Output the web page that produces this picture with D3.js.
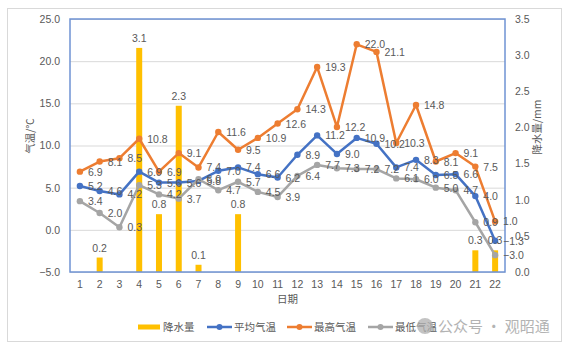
<!DOCTYPE html>
<html><head><meta charset="utf-8">
<script src="https://cdn.jsdelivr.net/npm/d3@7"></script>
<style>
html,body{margin:0;padding:0;background:#fff;}
svg{display:block;}
text{font-family:"Liberation Sans","Noto Sans CJK SC",sans-serif;}
.cjk{font-family:"Noto Sans CJK SC",sans-serif;}
</style></head>
<body>
<svg id="c" width="567" height="350"></svg>
<script>
const days = ["1","2","3","4","5","6","7","8","9","10","11","12","13","14","15","16","17","18","19","20","21","22"];
const precip = [0,0.2,0,3.1,0.8,2.3,0.1,0,0.8,0,0,0,0,0,0,0,0,0,0,0,0.3,0.3];
const avgT  = [5.2,4.6,4.2,6.9,5.6,5.6,5.8,7.0,7.4,6.6,6.2,8.9,11.2,9.0,10.9,10.2,7.4,8.3,6.5,6.6,4.0,-1.3];
const maxT  = [6.9,8.1,8.5,10.8,6.9,9.1,7.4,11.6,9.5,10.9,12.6,14.3,19.3,12.2,22.0,21.1,10.3,14.8,8.1,9.1,7.5,1.0];
const minT  = [3.4,2.0,0.3,5.3,4.2,3.7,6.0,4.7,5.7,4.5,3.9,6.4,7.7,7.3,7.2,7.2,6.1,6.0,5.0,4.7,0.9,-3.0];
const leftTicks = [-5,0,5,10,15,20,25];
const rightTicks = [0,0.5,1.0,1.5,2.0,2.5,3.0,3.5];
const seriesNames = ["降水量","平均气温","最高气温","最低气温"];
const colors = {precip:"#FFC000", avg:"#4472C4", max:"#ED7D31", min:"#A5A5A5"};

const svg = d3.select("#c");
const L=70, R=505, T=19, B=272;
const x = d3.scaleBand().domain(days).range([L,R]).padding(0);
const yL = d3.scaleLinear().domain([-5,25]).range([B,T]);
const yR = d3.scaleLinear().domain([0,3.5]).range([B,T]);
const cx = d => x(d)+x.bandwidth()/2;
const labColor = "#595959";

// outer frame
svg.append("rect").attr("x",7.5).attr("y",8.5).attr("width",554).attr("height",333)
  .attr("fill","#fff").attr("stroke","#D9D9D9");

// gridlines
svg.append("g").attr("transform",`translate(${L},0)`)
  .call(d3.axisLeft(yL).tickValues(leftTicks).tickSize(-(R-L)).tickFormat(""))
  .call(g=>g.select(".domain").remove())
  .call(g=>g.selectAll("line").attr("stroke","#D9D9D9").attr("stroke-width",1));

// left axis labels
svg.append("g").attr("transform",`translate(${L-10},0)`)
  .call(d3.axisLeft(yL).tickValues(leftTicks).tickSize(0).tickFormat(d3.format(".1f")))
  .call(g=>g.select(".domain").remove())
  .call(g=>g.selectAll("text").attr("fill",labColor).style("font-size","10.5px").attr("x",0));

// right axis labels
svg.append("g").attr("transform",`translate(${R+10},0)`)
  .call(d3.axisRight(yR).tickValues(rightTicks).tickSize(0).tickFormat(d3.format(".1f")))
  .call(g=>g.select(".domain").remove())
  .call(g=>g.selectAll("text").attr("fill",labColor).style("font-size","10.5px").attr("x",0));

// x axis labels
svg.append("g").attr("transform",`translate(0,${B+6})`)
  .call(d3.axisBottom(x).tickSize(0))
  .call(g=>g.select(".domain").remove())
  .call(g=>g.selectAll("text").attr("fill",labColor).style("font-size","10.5px"));

// bars
const bw = 6;
svg.append("g").selectAll("rect").data(days.map((d,i)=>({d,v:precip[i]})).filter(o=>o.v>0))
  .join("rect").attr("x",o=>cx(o.d)-bw/2).attr("width",bw)
  .attr("y",o=>yR(o.v)).attr("height",o=>yR(0)-yR(o.v)).attr("fill",colors.precip);

// plot border
svg.append("rect").attr("x",L).attr("y",T).attr("width",R-L).attr("height",B-T)
  .attr("fill","none").attr("stroke","#6F93D3").attr("stroke-width",1.5);

// lines
const lineSeries = [
  {vals:avgT,color:colors.avg},
  {vals:maxT,color:colors.max},
  {vals:minT,color:colors.min}
];
const line = d3.line().x(o=>cx(o.d)).y(o=>yL(o.v));
lineSeries.forEach(s=>{
  const pts = days.map((d,i)=>({d,v:s.vals[i]}));
  svg.append("path").datum(pts).attr("d",line).attr("fill","none")
    .attr("stroke",s.color).attr("stroke-width",2.5).attr("stroke-linejoin","round");
  svg.append("g").selectAll("circle").data(pts).join("circle")
    .attr("cx",o=>cx(o.d)).attr("cy",o=>yL(o.v)).attr("r",3.2).attr("fill",s.color);
});

// data labels - lines (right)
lineSeries.forEach(s=>{
  svg.append("g").selectAll("text").data(days.map((d,i)=>({d,v:s.vals[i]}))).join("text")
    .attr("x",o=>cx(o.d)+8).attr("y",o=>yL(o.v)+4)
    .attr("fill",labColor).style("font-size","10.5px")
    .text(o=>d3.format(".1f")(o.v));
});
// data labels - bars (above)
svg.append("g").selectAll("text").data(days.map((d,i)=>({d,v:precip[i]})).filter(o=>o.v>0)).join("text")
  .attr("x",o=>cx(o.d)).attr("y",o=>yR(o.v)-6).attr("text-anchor","middle")
  .attr("fill",labColor).style("font-size","10.5px")
  .text(o=>d3.format(".1f")(o.v));

// axis titles
svg.append("text").attr("class","cjk").attr("transform","translate(34,136) rotate(-90)")
  .attr("text-anchor","middle").attr("fill",labColor).style("font-size","10.5px").text("气温/℃");
svg.append("text").attr("class","cjk").attr("transform","translate(541,127) rotate(-90)")
  .attr("text-anchor","middle").attr("fill",labColor).style("font-size","10.5px").text("降水量/mm");
svg.append("text").attr("class","cjk").attr("x",(L+R)/2).attr("y",303)
  .attr("text-anchor","middle").attr("fill",labColor).style("font-size","10.5px").text("日期");

// legend
const ly = 327;
const leg = svg.append("g");
leg.append("rect").attr("x",138).attr("y",ly-2.5).attr("width",22).attr("height",5).attr("fill",colors.precip);
leg.append("text").attr("class","cjk").attr("x",163).attr("y",ly+4).attr("fill",labColor).style("font-size","10.5px").text(seriesNames[0]);
[[207,colors.avg,seriesNames[1]],[287,colors.max,seriesNames[2]],[368,colors.min,seriesNames[3]]].forEach(([lx,c,n])=>{
  leg.append("line").attr("x1",lx).attr("x2",lx+25).attr("y1",ly).attr("y2",ly).attr("stroke",c).attr("stroke-width",2.5);
  leg.append("circle").attr("cx",lx+12.5).attr("cy",ly).attr("r",3).attr("fill",c);
  leg.append("text").attr("class","cjk").attr("x",lx+27).attr("y",ly+4).attr("fill",labColor).style("font-size","10.5px").text(n);
});

// watermark
const wm = svg.append("g").attr("opacity",0.75);
wm.append("circle").attr("cx",425).attr("cy",326).attr("r",8).attr("fill","#B0B0B0");
wm.append("text").attr("class","cjk").attr("x",438).attr("y",332).attr("fill","#9A9A9A").style("font-size","15px").text("公众号 · 观昭通");
</script>
</body></html>
